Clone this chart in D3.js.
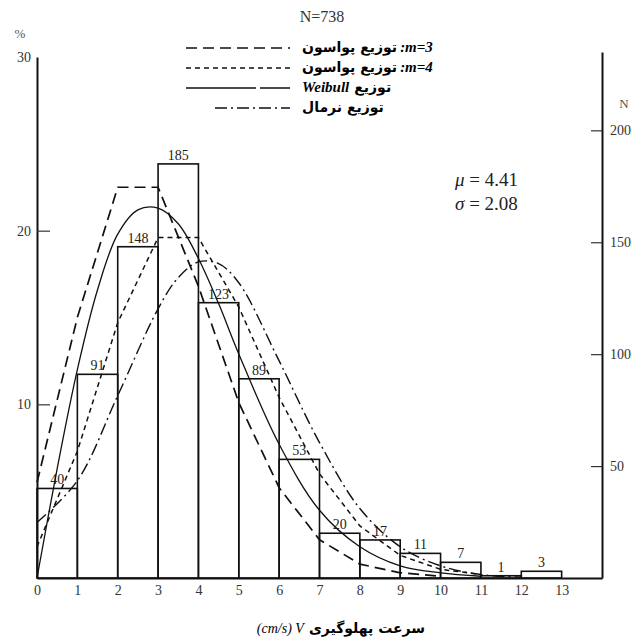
<!DOCTYPE html>
<html>
<head>
<meta charset="utf-8">
<script src="https://cdn.jsdelivr.net/npm/d3@7.9.0/dist/d3.min.js"></script>
<style>
  body { margin: 0; background: #fff; }
  svg { display: block; }
  .serif { font-family: "Liberation Serif", "DejaVu Serif", serif; }
  .fa { font-family: "DejaVu Sans", sans-serif; font-weight: bold; }
</style>
</head>
<body>
<script>
// histogram: speed bins (cm/s) and counts
const binStarts = [0, 1, 2, 3, 4, 5, 6, 7, 8, 9, 10, 11, 12];
const counts = [40, 91, 148, 185, 123, 89, 53, 20, 17, 11, 7, 1, 3];

// fitted curves, in percent
const poisson3X = [0, 1, 2, 3, 4, 5, 6, 7, 8, 9, 10];
const poisson3Y = [5.5, 15.0, 22.5, 22.5, 16.8, 10.1, 5.2, 2.2, 0.8, 0.3, 0.1];
const poisson4X = [0, 1, 2, 3, 4, 5, 6, 7, 8, 9, 10, 11];
const poisson4Y = [1.8, 7.3, 14.7, 19.6, 19.6, 15.6, 10.4, 6.0, 3.0, 1.3, 0.5, 0.2];
const weibullX = [0, 0.5, 1, 1.5, 2, 2.5, 3, 3.5, 4, 4.5, 5, 6, 7, 8, 9, 10, 11];
const weibullY = [0, 6.3, 12.0, 16.6, 19.8, 21.2, 21.3, 20.4, 18.4, 15.8, 12.9, 7.7, 3.9, 1.8, 0.7, 0.3, 0.1];
const normalX = [0, 1, 2, 3, 3.5, 4, 4.5, 5, 6, 7, 8, 9, 10, 11, 12];
const normalY = [3.2, 5.6, 10.5, 15.5, 17.3, 18.2, 18.1, 17.0, 12.5, 7.8, 4.0, 1.8, 0.7, 0.2, 0.05];

const xTicks = d3.range(0, 14);
const pctTicks = [10, 20, 30];
const nTicks = [50, 100, 150, 200];

const svg = d3.select('body').append('svg')
    .attr('width', 639).attr('height', 639);

let x = d3.scaleLinear().domain([0, 14]).range([37, 602]);
let yPct = d3.scaleLinear().domain([0, 30]).range([578, 57]);
let yN = d3.scaleLinear().domain([0, 235]).range([578, 52]);

// bars
svg.append('g').selectAll('rect')
    .data(binStarts)
    .join('rect')
    .attr('x', d => x(d))
    .attr('width', d => x(d + 1) - x(d))
    .attr('y', (d, i) => yN(counts[i]))
    .attr('height', (d, i) => yN(0) - yN(counts[i]))
    .attr('fill', 'none')
    .attr('stroke', '#111')
    .attr('stroke-width', 1.6);

svg.append('g').attr('class', 'serif').selectAll('text')
    .data(binStarts)
    .join('text')
    .attr('x', d => x(d + 0.5))
    .attr('y', (d, i) => yN(counts[i]) - 4)
    .attr('text-anchor', 'middle')
    .attr('font-size', 14)
    .attr('fill', '#222')
    .text((d, i) => counts[i]);

// curves
let line = d3.line().x(d => x(d[0])).y(d => yPct(d[1]));
let smooth = d3.line().x(d => x(d[0])).y(d => yPct(d[1])).curve(d3.curveCatmullRom);

const curves = [
    { xs: poisson3X, ys: poisson3Y, gen: line, dash: '11,6', w: 1.7 },
    { xs: poisson4X, ys: poisson4Y, gen: line, dash: '5,4', w: 1.5 },
    { xs: weibullX, ys: weibullY, gen: smooth, dash: null, w: 1.3 },
    { xs: normalX, ys: normalY, gen: smooth, dash: '12,4,2,4', w: 1.4 },
];
curves.forEach(c => {
    svg.append('path')
        .attr('d', c.gen(c.xs.map((v, i) => [v, c.ys[i]])))
        .attr('fill', 'none')
        .attr('stroke', '#111')
        .attr('stroke-width', c.w)
        .attr('stroke-dasharray', c.dash);
});

// axes
let bottomAxis = svg.append('g')
    .attr('transform', `translate(0,${yPct(0)})`)
    .call(d3.axisBottom(x).tickValues(xTicks).tickSize(0).tickSizeOuter(0).tickPadding(7));
let leftAxis = svg.append('g')
    .attr('transform', `translate(${x(0)},0)`)
    .call(d3.axisLeft(yPct).tickValues(pctTicks).tickSizeInner(-13).tickSizeOuter(0).tickPadding(6));
leftAxis.selectAll('.tick').filter(d => d === 30).select('line').remove();
let rightAxis = svg.append('g')
    .attr('transform', `translate(${x(14)},0)`)
    .call(d3.axisRight(yN).tickValues(nTicks).tickSizeInner(-11).tickSizeOuter(0).tickPadding(8));

[bottomAxis, leftAxis, rightAxis].forEach(a => {
    a.select('.domain').attr('stroke', '#111').attr('stroke-width', 2);
    a.selectAll('.tick line').attr('stroke', '#333').attr('stroke-width', 1.2);
    a.selectAll('text')
        .attr('font-family', '"Liberation Serif", "DejaVu Serif", serif')
        .attr('font-size', 14)
        .attr('fill', '#333');
});

// axis units
svg.append('text').attr('class', 'serif').attr('x', 20).attr('y', 38)
    .attr('text-anchor', 'middle').attr('font-size', 13).attr('fill', '#555').text('%');
svg.append('text').attr('class', 'serif').attr('x', 624).attr('y', 108)
    .attr('text-anchor', 'middle').attr('font-size', 13).attr('fill', '#555').text('N');

svg.append('text').attr('class', 'serif').attr('x', 322).attr('y', 22)
    .attr('text-anchor', 'middle').attr('font-size', 16).attr('fill', '#333').text('N=738');

// stats
svg.append('text').attr('class', 'serif').attr('x', 455).attr('y', 186)
    .attr('font-size', 19).attr('fill', '#222')
    .html('<tspan font-style="italic">μ</tspan> = 4.41');
svg.append('text').attr('class', 'serif').attr('x', 455).attr('y', 210)
    .attr('font-size', 19).attr('fill', '#222')
    .html('<tspan font-style="italic">σ</tspan> = 2.08');

// legend
const legendRows = [
    { y: 46, dash: '11,6', x0: 186, fa: 'توزیع پواسون', latin: ':m=3', latinFirst: false },
    { y: 66, dash: '5,4', x0: 186, fa: 'توزیع پواسون', latin: ':m=4', latinFirst: false },
    { y: 86, dash: '70,4,30', x0: 186, fa: 'توزیع', latin: 'Weibull', latinFirst: true },
    { y: 106, dash: '12,4,2,4', x0: 215, fa: 'توزیع نرمال', latin: null, latinFirst: false },
];
let legend = svg.append('g');
legendRows.forEach(r => {
    legend.append('line')
        .attr('x1', r.x0).attr('x2', 290)
        .attr('y1', r.y + 2).attr('y2', r.y + 2)
        .attr('stroke', '#111').attr('stroke-width', 1.5)
        .attr('stroke-dasharray', r.dash);
    if (r.latinFirst) {
        let t = legend.append('text').attr('x', 302).attr('y', r.y + 6)
            .attr('font-family', '"Liberation Serif", serif').attr('font-weight', 'bold')
            .attr('font-style', 'italic').attr('font-size', 15).text(r.latin);
        let w = t.node().getComputedTextLength();
        legend.append('text').attr('class', 'fa').attr('x', 302 + w + 5).attr('y', r.y + 6)
            .attr('font-size', 14).text(r.fa);
    } else {
        let t = legend.append('text').attr('class', 'fa').attr('x', 302).attr('y', r.y + 6)
            .attr('font-size', 14).text(r.fa);
        if (r.latin) {
            let w = t.node().getComputedTextLength();
            legend.append('text').attr('x', 302 + w + 3).attr('y', r.y + 6)
                .attr('font-family', '"Liberation Serif", serif').attr('font-weight', 'bold')
                .attr('font-style', 'italic').attr('font-size', 15).text(r.latin);
        }
    }
});

// x title
let fa = svg.append('text').attr('class', 'fa').attr('x', 425).attr('y', 633)
    .attr('text-anchor', 'end').attr('font-size', 14).attr('font-weight', 'normal')
    .text('سرعت پهلوگیری');
let faW = fa.node().getComputedTextLength();
svg.append('text').attr('class', 'serif').attr('x', 425 - faW - 5).attr('y', 633)
    .attr('text-anchor', 'end').attr('font-size', 14).attr('font-style', 'italic')
    .text('(cm/s) V');
</script>
</body>
</html>
